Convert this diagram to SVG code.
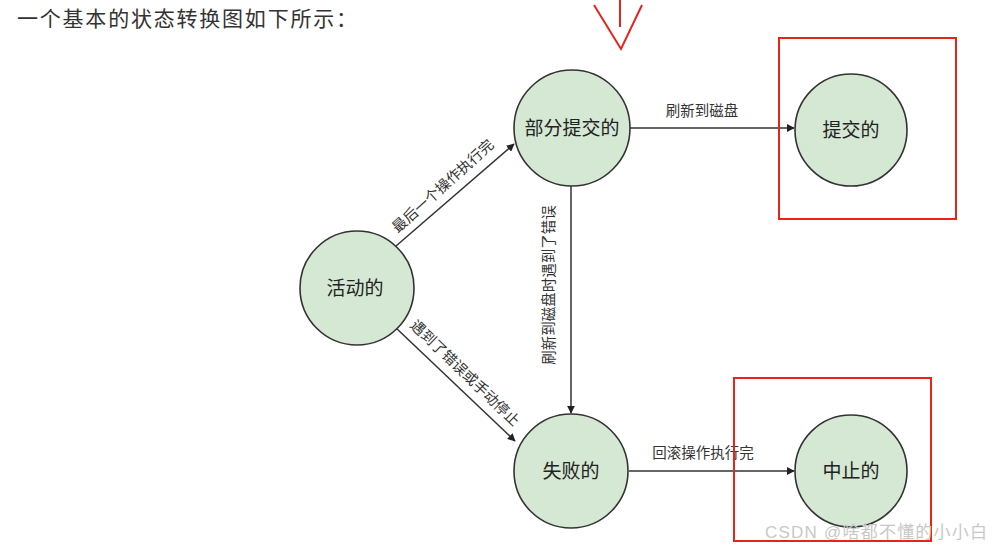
<svg xmlns="http://www.w3.org/2000/svg" width="1001" height="551" viewBox="0 0 1001 551">
<style>
.node{fill:#d5e8d4;stroke:#333;stroke-width:1.6}
.nl{font-family:"Liberation Sans","Noto Sans CJK SC",sans-serif;font-size:19px;fill:#222;text-anchor:middle;dominant-baseline:central}
.el{font-family:"Liberation Sans","Noto Sans CJK SC",sans-serif;font-size:14.5px;fill:#333;text-anchor:middle;dominant-baseline:central}
.edge{stroke:#333;stroke-width:1.5;fill:none;marker-end:url(#arr)}
.red{stroke:#e8231a;stroke-width:2;fill:none}
</style>
<defs>
<marker id="arr" viewBox="0 0 10 10" refX="9" refY="5" markerWidth="8" markerHeight="8" markerUnits="userSpaceOnUse" orient="auto">
<path d="M0,0 L10,5 L0,10 z" fill="#222"/>
</marker>
</defs>
<rect width="1001" height="551" fill="#fff"/>
<text x="17" y="26" font-family="Liberation Sans,'Noto Sans CJK SC',sans-serif" font-size="21" fill="#333" textLength="340">一个基本的状态转换图如下所示：</text>
<g id="connectors">
<line class="edge" x1="396" y1="246" x2="514" y2="144"/>
<line class="edge" x1="395" y1="327" x2="515" y2="441"/>
<line class="edge" x1="571" y1="186" x2="571" y2="413"/>
<line class="edge" x1="630" y1="128" x2="794" y2="128"/>
<line class="edge" x1="629" y1="471" x2="794" y2="471"/>
<text class="el" transform="translate(443,186) rotate(-42)">最后一个操作执行完</text>
<text class="el" transform="translate(465,373) rotate(44)">遇到了错误或手动停止</text>
<text class="el" transform="translate(549,285) rotate(-90)">刷新到磁盘时遇到了错误</text>
<text class="el" x="702" y="111">刷新到磁盘</text>
<text class="el" x="703" y="453">回滚操作执行完</text>
</g>
<g id="n-active"><circle class="node" cx="357" cy="288" r="57"/><text class="nl" x="355" y="288">活动的</text></g>
<g id="n-partial"><circle class="node" cx="572" cy="128" r="58"/><text class="nl" x="572" y="128">部分提交的</text></g>
<g id="n-committed"><circle class="node" cx="851" cy="130" r="56"/><text class="nl" x="851" y="130">提交的</text></g>
<g id="n-failed"><circle class="node" cx="571" cy="471" r="57"/><text class="nl" x="571" y="471">失败的</text></g>
<g id="n-aborted"><circle class="node" cx="851" cy="471" r="56"/><text class="nl" x="851" y="471">中止的</text></g>
<g id="annotations">
<rect class="red" x="779" y="38" width="177" height="181"/>
<rect class="red" x="734" y="378" width="197" height="163"/>
<line class="red" x1="620" y1="0" x2="620" y2="27"/>
<polyline class="red" points="594,5 621,49 642,5"/>
</g>
<text x="765" y="538" font-family="Liberation Sans,'Noto Sans CJK SC',sans-serif" font-size="17" fill="#c8c8c8" textLength="222">CSDN @啥都不懂的小小白</text>
</svg>
